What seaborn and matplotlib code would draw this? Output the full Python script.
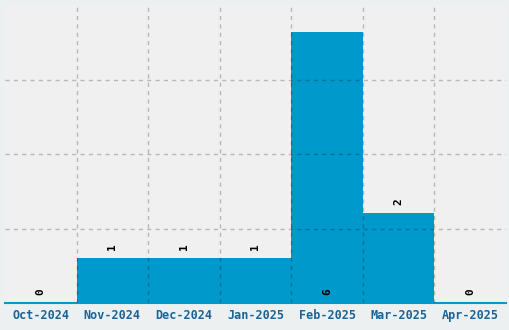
import matplotlib
matplotlib.use("Agg")
import matplotlib.pyplot as plt
import seaborn as sns
import pandas as pd

months = ["Oct-2024", "Nov-2024", "Dec-2024", "Jan-2025", "Feb-2025", "Mar-2025", "Apr-2025"]
counts = [0, 1, 1, 1, 6, 2, 0]

df = pd.DataFrame({"month": months, "count": counts})

sns.set_style("white")
plt.rcParams["font.family"] = ["DejaVu Sans Mono", "DejaVu Sans"]

fig = plt.figure(figsize=(5.10, 3.30), dpi=100, facecolor="#ecf0f1")
ax = fig.add_axes([5 / 510, 27 / 330, 501 / 510, 298 / 330])
ax.set_facecolor("#f0f0f0")

sns.barplot(data=df, x="month", y="count", color="#0099cc", saturation=1,
            width=1.0, ax=ax, edgecolor="none", linewidth=0)

ymax = max(counts) * 1.1
ax.set_ylim(0, ymax)
ax.set_xlim(-0.5, len(months) - 0.5)
ax.set_yticks([ymax / 4 * i for i in range(1, 4)])
ax.set_yticklabels([])
ax.set_xticks([i + 0.5 for i in range(len(months) - 1)], minor=True)
ax.tick_params(axis="y", length=0)
ax.tick_params(axis="x", which="both", length=0, pad=4, labelsize=8.5,
               labelcolor="#1a6496")
for lbl in ax.get_xticklabels():
    lbl.set_fontweight("bold")
ax.grid(True, axis="y", which="major", linestyle=(0, (3, 3)), color="black",
        alpha=0.23, linewidth=1, zorder=3)
ax.grid(True, axis="x", which="minor", linestyle=(0, (3, 3)), color="black",
        alpha=0.23, linewidth=1, zorder=3)
ax.grid(False, axis="x", which="major")
ax.set_axisbelow(False)
ax.set_xlabel("")
ax.set_ylabel("")
for s in ["top", "right", "left"]:
    ax.spines[s].set_visible(False)
ax.spines["bottom"].set_color("#0099cc")
ax.spines["bottom"].set_linewidth(1.5)

for i, v in enumerate(counts):
    y = 0.17 if v == max(counts) else v + 0.17
    ax.text(i, y, str(v), rotation=90, ha="center", va="bottom",
            fontsize=8, fontweight="bold", color="black", zorder=4)

fig.savefig("out.png", dpi=100, facecolor=fig.get_facecolor())
